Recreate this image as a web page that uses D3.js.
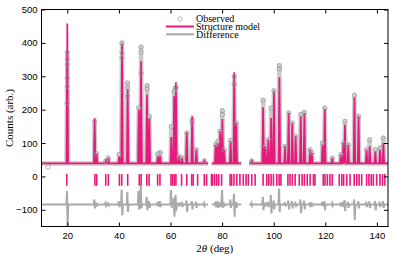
<!DOCTYPE html>
<html lang="en">
<head>
<meta charset="UTF-8">
<title>Powder diffraction refinement</title>
<script src="https://d3js.org/d3.v7.min.js"></script>
<style>
  body { margin: 0; background: #fff; }
  .tick text { font: 9.5px "Liberation Sans", Arial, sans-serif; fill: #000; }
  .lab { font-family: "Liberation Serif", "Times New Roman", serif; font-size: 11px; }
  .leg { font-family: "Liberation Serif", "Times New Roman", serif; font-size: 10px; }
</style>
</head>
<body>
<div id="chart"></div>
<script>
// measured ranges (2theta, deg) - gaps are excluded regions
const segments = [[10, 74.6], [76.0, 87.4], [90.5, 144.3]];
const background = 39;
const diffOffset = -84;

// peaks: position, model height, observed height, difference spikes
const peakPos = [20.0, 30.6, 31.4, 34.9, 35.9, 40.1, 41.2, 43.4, 47.7, 48.6, 50.9, 51.8, 55.1, 56.0, 60.3,
  61.4, 62.1, 63.3, 64.5, 66.3, 68.4, 70.0, 73.1, 77.5, 78.3, 79.2, 80.1, 80.8, 83.3, 84.7, 85.5, 91.5,
  95.9, 96.8, 97.9, 99.0, 100.1, 102.2, 104.4, 105.8, 107.2, 108.5, 110.5, 111.9, 114.1, 114.8, 118.9,
  119.8, 122.7, 126.0, 127.0, 127.6, 128.9, 131.3, 132.9, 136.0, 137.2, 139.4, 141.2, 142.5];
const calcHeight = [458, 175, 68, 46, 55, 60, 398, 262, 200, 345, 245, 175, 60, 62, 118,
  240, 282, 60, 55, 132, 182, 80, 46, 95, 100, 135, 172, 80, 105, 312, 160, 46,
  207, 90, 110, 175, 255, 297, 90, 190, 160, 120, 180, 190, 80, 70, 95,
  202, 55, 65, 100, 155, 95, 238, 180, 80, 90, 75, 80, 100];
const obsHeight = [372, 165, 68, 46, 55, 66, 400, 280, 206, 388, 272, 180, 68, 72, 150,
  255, 268, 60, 55, 130, 170, 80, 46, 95, 105, 135, 197, 80, 108, 300, 160, 46,
  228, 90, 110, 205, 257, 332, 90, 190, 160, 120, 186, 192, 80, 70, 100,
  205, 55, 65, 100, 165, 95, 243, 180, 80, 110, 80, 85, 115];
const diffUp = [40, 15, 6, 4, 6, 10, 45, 38, 40, 58, 23, 10, 8, 10, 43,
  20, 28, 6, 8, 12, 10, 8, 4, 8, 10, 6, 43, 6, 15, 33, 8, 4,
  23, 6, 8, 28, 12, 48, 6, 12, 10, 8, 15, 12, 6, 6, 8,
  10, 4, 6, 8, 13, 8, 15, 10, 8, 10, 10, 8, 10];
const diffDown = [-65, -12, -6, -4, -6, -8, -32, -22, -15, -12, -17, -10, -6, -8, -10,
  -37, -20, -6, -8, -22, -15, -10, -4, -8, -10, -8, -10, -6, -10, -37, -10, -4,
  -17, -6, -8, -27, -15, -22, -6, -15, -12, -8, -27, -15, -8, -6, -6,
  -17, -4, -6, -8, -20, -10, -47, -12, -8, -10, -17, -8, -10];

// extra observed points on peak flanks
const obsExtraX = [20.0, 20.0, 20.0, 20.0, 20.0, 41.2, 41.2, 43.4, 43.4, 48.6, 48.6, 50.9, 62.0, 68.4, 80.1, 84.7, 102.2, 12.5];
const obsExtraY = [350, 335, 295, 270, 220, 370, 355, 265, 240, 372, 310, 262, 265, 160, 185, 275, 322, 28];

// reflection positions
const reflections = [19.8, 30.7, 31.4, 34.9, 35.9, 40.2, 41.1, 43.4, 47.9, 48.6, 50.8, 51.7, 55.0, 55.9,
  60.2, 60.8, 61.5, 62.1, 64.3, 66.3, 68.2, 68.8, 70.5, 73.1, 74.0, 75.9, 76.3, 77.1, 77.9, 78.7, 79.8,
  83.1, 83.7, 84.6, 85.7, 86.9, 88.2, 89.3, 90.2, 91.5, 92.8, 95.9, 97.3, 98.1, 99.0, 99.9, 101.2, 102.1,
  102.8, 105.5, 106.3, 107.2, 108.3, 109.9, 111.0, 111.9, 113.0, 114.1, 115.4, 116.0, 119.2, 119.9,
  120.8, 121.8, 122.7, 125.4, 126.4, 127.1, 128.3, 129.6, 131.2, 132.2, 133.1, 134.1, 136.0, 136.9,
  137.8, 138.6, 139.9, 141.2, 142.2, 143.1];
const reflLow = -28, reflHigh = 7;

const xTicks = [20, 40, 60, 80, 100, 120, 140];
const yTicks = [-100, 0, 100, 200, 300, 400, 500];

const W = 395, H = 254;
const pink = "#e6197d";

const svg = d3.select("#chart").append("svg")
  .attr("width", W).attr("height", H);

const x = d3.scaleLinear().domain([10, 144.3]).range([41.5, 388]);
const y = d3.scaleLinear().domain([-150, 500]).range([226.5, 9.5]);

const line = d3.line().x(d => x(d[0])).y(d => y(d[1]));
const hw = 0.3;

// build a profile for one measured range
function profile(seg, heights) {
  const pts = [[seg[0], background]];
  peakPos.forEach((p, i) => {
    if (p > seg[0] && p < seg[1]) pts.push([p - hw, background], [p, heights[i]], [p + hw, background]);
  });
  pts.push([seg[1], background]);
  return pts;
}
function diffProfile(seg) {
  const pts = [[seg[0], diffOffset]];
  peakPos.forEach((p, i) => {
    if (p > seg[0] && p < seg[1]) {
      pts.push([p - 0.35, diffOffset], [p - 0.12, diffOffset + diffUp[i]],
        [p + 0.12, diffOffset + diffDown[i]], [p + 0.35, diffOffset]);
    }
  });
  pts.push([seg[1], diffOffset]);
  return pts;
}

const plot = svg.append("g");

// observed (dense points drawn as a band)
plot.selectAll(".obsband").data(segments).enter().append("path")
  .attr("d", s => line(profile(s, obsHeight)))
  .attr("fill", "none").attr("stroke", "#cbcbcb").attr("stroke-width", 4.5)
  .attr("stroke-linejoin", "round");

// model
plot.selectAll(".calc").data(segments).enter().append("path")
  .attr("d", s => line(profile(s, calcHeight)))
  .attr("fill", "none").attr("stroke", pink).attr("stroke-width", 1.7);

// observed circles
const obsPts = peakPos.map((p, i) => [p, obsHeight[i]])
  .concat(obsExtraX.map((p, i) => [p, obsExtraY[i]]));
plot.selectAll(".obs").data(obsPts).enter().append("circle")
  .attr("cx", d => x(d[0])).attr("cy", d => y(d[1])).attr("r", 2.2)
  .attr("fill", "none").attr("stroke", "#9a9a9a").attr("stroke-width", 0.7);

// reflection markers
plot.selectAll(".refl").data(reflections).enter().append("line")
  .attr("x1", d => x(d)).attr("x2", d => x(d))
  .attr("y1", y(reflLow)).attr("y2", y(reflHigh))
  .attr("stroke", pink).attr("stroke-width", 1.6);

// difference
plot.selectAll(".diff").data(segments).enter().append("path")
  .attr("d", s => line(diffProfile(s)))
  .attr("fill", "none").attr("stroke", "#aaaaaa").attr("stroke-width", 2);

// axes, ticks inward
const gx = svg.append("g").attr("transform", `translate(0,${y.range()[0]})`)
  .call(d3.axisBottom(x).tickValues(xTicks).tickSizeInner(-4).tickSizeOuter(0).tickPadding(6));
const gxt = svg.append("g").attr("transform", `translate(0,${y.range()[1]})`)
  .call(d3.axisTop(x).tickValues(xTicks).tickSizeInner(-4).tickSizeOuter(0).tickFormat(""));
const gy = svg.append("g").attr("transform", `translate(${x.range()[0]},0)`)
  .call(d3.axisLeft(y).tickValues(yTicks).tickSizeInner(-4).tickSizeOuter(0).tickPadding(4));
const gyr = svg.append("g").attr("transform", `translate(${x.range()[1]},0)`)
  .call(d3.axisRight(y).tickValues(yTicks).tickSizeInner(-4).tickSizeOuter(0).tickFormat(""));
[gx, gxt, gy, gyr].forEach(g => g.select(".domain").remove());

svg.append("rect")
  .attr("x", x.range()[0]).attr("y", y.range()[1])
  .attr("width", x.range()[1] - x.range()[0]).attr("height", y.range()[0] - y.range()[1])
  .attr("fill", "none").attr("stroke", "#000").attr("stroke-width", 1);

// labels
const xl = svg.append("text").attr("class", "lab")
  .attr("x", (x.range()[0] + x.range()[1]) / 2).attr("y", 251.5).attr("text-anchor", "middle");
xl.append("tspan").text("2");
xl.append("tspan").attr("font-style", "italic").text("θ");
xl.append("tspan").text(" (deg)");

svg.append("text").attr("class", "lab")
  .attr("transform", `translate(12.5,${(y.range()[0] + y.range()[1]) / 2}) rotate(-90)`)
  .attr("text-anchor", "middle").text("Counts (arb.)");

// legend
const leg = svg.append("g");
leg.append("circle").attr("cx", 180).attr("cy", 19).attr("r", 2.2)
  .attr("fill", "none").attr("stroke", "#9a9a9a").attr("stroke-width", 0.7);
leg.append("line").attr("x1", 166).attr("x2", 194).attr("y1", 26.5).attr("y2", 26.5)
  .attr("stroke", pink).attr("stroke-width", 2);
leg.append("line").attr("x1", 166).attr("x2", 194).attr("y1", 34.3).attr("y2", 34.3)
  .attr("stroke", "#aaaaaa").attr("stroke-width", 2);
["Observed", "Structure model", "Difference"].forEach((t, i) => {
  leg.append("text").attr("class", "leg").attr("x", 196).attr("y", 21.8 + i * 8).text(t);
});
</script>
</body>
</html>
